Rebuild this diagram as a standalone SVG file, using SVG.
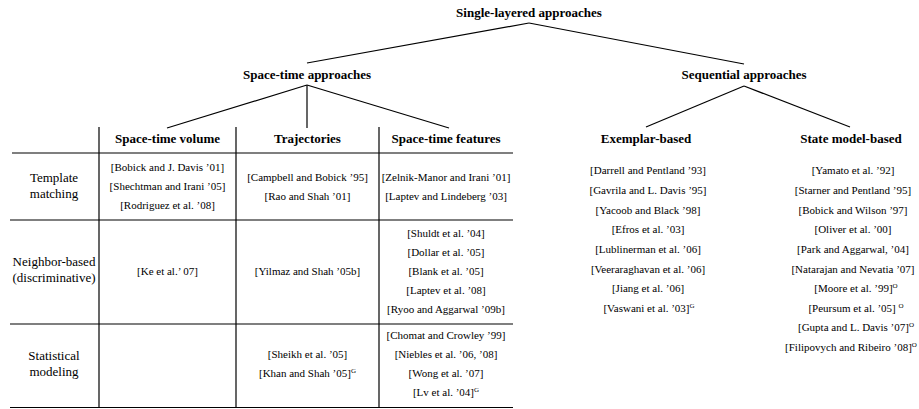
<svg xmlns="http://www.w3.org/2000/svg" width="919" height="409" viewBox="0 0 919 409">
<style>
text{font-family:"Liberation Serif","Times New Roman",serif;fill:#000;text-anchor:middle}
.h{font-size:13px;font-weight:bold}
.lab{font-size:13px}
.c{font-size:11px}
.sup{font-size:7px}
.ln{stroke:#000;stroke-width:1.2;fill:none}
</style>
<rect width="919" height="409" fill="#fff"/>
<g id="connectors" class="ln">
<line x1="529" y1="23" x2="307" y2="63"/>
<line x1="529" y1="23" x2="744" y2="64"/>
<line x1="307" y1="85" x2="167" y2="128"/>
<line x1="307" y1="85" x2="307" y2="128"/>
<line x1="307" y1="85" x2="449" y2="128"/>
<line x1="744" y1="86" x2="646" y2="127"/>
<line x1="744" y1="86" x2="850" y2="127"/>
</g>
<g id="table-grid" class="ln">
<line x1="99" y1="127" x2="99" y2="408"/>
<line x1="236" y1="127" x2="236" y2="408"/>
<line x1="379" y1="127" x2="379" y2="408"/>
<line x1="12" y1="153" x2="513" y2="153"/>
<line x1="10" y1="220" x2="513" y2="220"/>
<line x1="10" y1="324" x2="513" y2="324"/>
<line x1="10" y1="407.5" x2="513" y2="407.5"/>
</g>
<g id="single-layered"><text class="h" x="529" y="17">Single-layered approaches</text></g>
<g id="space-time"><text class="h" x="307" y="79">Space-time approaches</text></g>
<g id="sequential"><text class="h" x="744" y="79">Sequential approaches</text></g>
<g id="col-volume"><text class="h" x="167.5" y="143">Space-time volume</text></g>
<g id="col-trajectories"><text class="h" x="307.5" y="143">Trajectories</text></g>
<g id="col-features"><text class="h" x="446" y="143">Space-time features</text></g>
<g id="row-template"><text class="lab" x="54" y="182">Template</text><text class="lab" x="54" y="198">matching</text></g>
<g id="row-neighbor"><text class="lab" x="54" y="266">Neighbor-based</text><text class="lab" x="54" y="282">(discriminative)</text></g>
<g id="row-statistical"><text class="lab" x="54" y="360">Statistical</text><text class="lab" x="54" y="376">modeling</text></g>
<g id="cell-template-volume">
<text class="c" x="167.5" y="171">[Bobick and J. Davis ’01]</text>
<text class="c" x="167.5" y="190">[Shechtman and Irani ’05]</text>
<text class="c" x="167.5" y="209">[Rodriguez et al. ’08]</text>
</g>
<g id="cell-template-trajectories">
<text class="c" x="307.5" y="181">[Campbell and Bobick ’95]</text>
<text class="c" x="307.5" y="200">[Rao and Shah ’01]</text>
</g>
<g id="cell-template-features">
<text class="c" x="446" y="181">[Zelnik-Manor and Irani ’01]</text>
<text class="c" x="446" y="200">[Laptev and Lindeberg ’03]</text>
</g>
<g id="cell-neighbor-volume"><text class="c" x="167.5" y="275">[Ke et al.’ 07]</text></g>
<g id="cell-neighbor-trajectories"><text class="c" x="307.5" y="275">[Yilmaz and Shah ’05b]</text></g>
<g id="cell-neighbor-features">
<text class="c" x="446" y="237">[Shuldt et al. ’04]</text>
<text class="c" x="446" y="256">[Dollar et al. ’05]</text>
<text class="c" x="446" y="275">[Blank et al. ’05]</text>
<text class="c" x="446" y="294">[Laptev et al. ’08]</text>
<text class="c" x="446" y="313">[Ryoo and Aggarwal ’09b]</text>
</g>
<g id="cell-statistical-trajectories">
<text class="c" x="307.5" y="358">[Sheikh et al. ’05]</text>
<text class="c" x="307.5" y="377">[Khan and Shah ’05]<tspan class="sup" dy="-4">G</tspan></text>
</g>
<g id="cell-statistical-features">
<text class="c" x="446" y="339">[Chomat and Crowley ’99]</text>
<text class="c" x="446" y="358">[Niebles et al. ’06, ’08]</text>
<text class="c" x="446" y="377">[Wong et al. ’07]</text>
<text class="c" x="446" y="396">[Lv et al. ’04]<tspan class="sup" dy="-4">G</tspan></text>
</g>
<g id="exemplar-based">
<text class="h" x="646" y="143">Exemplar-based</text>
<text class="c" x="648" y="174">[Darrell and Pentland ’93]</text>
<text class="c" x="648" y="194">[Gavrila and L. Davis ’95]</text>
<text class="c" x="648" y="213.5">[Yacoob and Black ’98]</text>
<text class="c" x="648" y="233">[Efros et al. ’03]</text>
<text class="c" x="648" y="253">[Lublinerman et al. ’06]</text>
<text class="c" x="648" y="272.5">[Veeraraghavan et al. ’06]</text>
<text class="c" x="648" y="292">[Jiang et al. ’06]</text>
<text class="c" x="649" y="312">[Vaswani et al. ’03]<tspan class="sup" dy="-4">G</tspan></text>
</g>
<g id="state-model-based">
<text class="h" x="851" y="143">State model-based</text>
<text class="c" x="853" y="174">[Yamato et al. ’92]</text>
<text class="c" x="853" y="194">[Starner and Pentland ’95]</text>
<text class="c" x="853" y="213.5">[Bobick and Wilson ’97]</text>
<text class="c" x="853" y="233">[Oliver et al. ’00]</text>
<text class="c" x="853" y="253">[Park and Aggarwal, ’04]</text>
<text class="c" x="853" y="272.5">[Natarajan and Nevatia ’07]</text>
<text class="c" x="856" y="292">[Moore et al. ’99]<tspan class="sup" dy="-4">O</tspan></text>
<text class="c" x="856" y="312">[Peursum et al. ’05] <tspan class="sup" dy="-4">O</tspan></text>
<text class="c" x="856" y="331">[Gupta and L. Davis ’07]<tspan class="sup" dy="-4">O</tspan></text>
<text class="c" x="851" y="351">[Filipovych and Ribeiro ’08]<tspan class="sup" dy="-4">O</tspan></text>
</g>
</svg>
